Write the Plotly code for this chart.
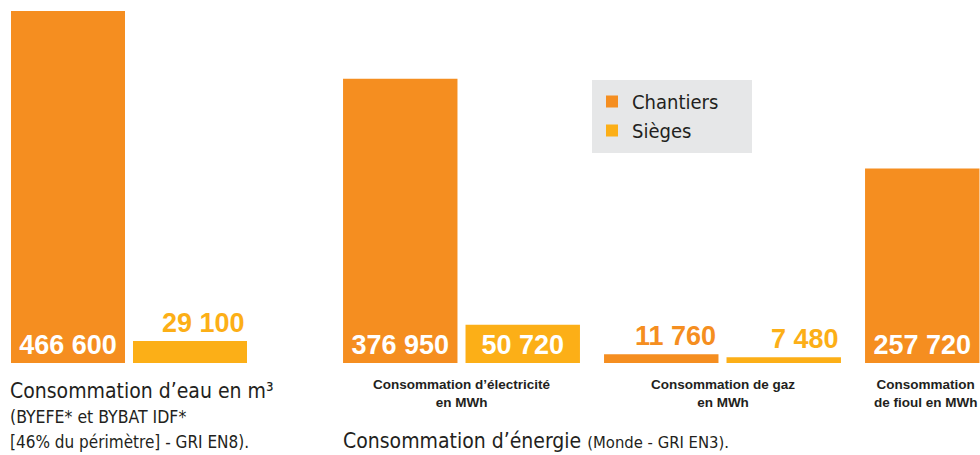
import plotly.graph_objects as go

# ---------------- data ----------------
series_names = ["Chantiers", "Sièges"]
water_categories = ["Consommation d'eau en m3"]
water_chantiers = [466600]
water_sieges = [29100]

energy_categories = ["Électricité", "Gaz", "Fioul"]
energy_chantiers = [376950, 11760, 257720]
energy_sieges = [50720, 7480, None]

# ---------------- style ----------------
W, H = 980, 455
C_ORANGE = "#F58E20"
C_YELLOW = "#FCAF17"
TXT = "#231F20"
NARROW = "DejaVu Sans Condensed, Liberation Sans Narrow, sans-serif"
BOLD = "Liberation Sans, Arial, sans-serif"
BARGAP = 0.0615
GROUPGAP = 0.0656
CAT_W = 261.0
INSIDE_MIN = 40000

base_px = 363          # baseline pixel from top
y_top = 466600 * base_px / 352.0


def fmt(v):
    return f"{v:,}".replace(",", " ")


def fx(px):
    return px / W


def fy(py):
    return 1 - py / H


fig = go.Figure()
colors = [C_ORANGE, C_YELLOW]


def add_group(cats, vals_list, xaxis, show_legend):
    for name, vals, col in zip(series_names, vals_list, colors):
        texts = [fmt(v) if (v is not None and v >= INSIDE_MIN) else "" for v in vals]
        fig.add_trace(go.Bar(
            x=cats, y=vals, name=name, marker=dict(color=col, line=dict(width=0)),
            text=texts, textposition="inside", insidetextanchor="start",
            textangle=0, constraintext="none",
            textfont=dict(color="white", size=27, family=BOLD, weight="bold"),
            xaxis=xaxis, yaxis="y", legendgroup=name, showlegend=show_legend,
            hoverinfo="skip",
        ))


add_group(water_categories, [water_chantiers, water_sieges], "x", True)
add_group(energy_categories, [energy_chantiers, energy_sieges], "x2", False)

# outside labels for short bars (right aligned on bar)
slot = CAT_W * (1 - BARGAP) / 2
bar_w = slot * (1 - GROUPGAP)
annotations = []
for cats, vals_list, xref in [(water_categories, [water_chantiers, water_sieges], "x"),
                              (energy_categories, [energy_chantiers, energy_sieges], "x2")]:
    for si, (vals, col) in enumerate(zip(vals_list, colors)):
        center_off = (-0.5 + si) * slot
        for c, v in zip(cats, vals):
            if v is not None and v < INSIDE_MIN:
                annotations.append(dict(
                    x=c, y=v, xref=xref, yref="y", text=fmt(v), showarrow=False,
                    xanchor="right", yanchor="bottom", xshift=center_off + bar_w / 2, yshift=1,
                    font=dict(color=col, size=27, family=BOLD, weight="bold"),
                ))

# captions
def cap(text, xpx, ypx, size, family=NARROW, xanchor="left", weight="normal"):
    annotations.append(dict(
        x=fx(xpx), y=fy(ypx), xref="paper", yref="paper", text=text, showarrow=False,
        xanchor=xanchor, yanchor="middle",
        font=dict(color=TXT, size=size, family=family, weight=weight),
    ))

cap("Consommation d’eau en m³", 8, 391, 21)
cap("(BYEFE* et BYBAT IDF*", 8, 417, 17.5)
cap("[46% du périmètre] - GRI EN8).", 8, 442, 17)
cap("Consommation d’électricité<br>en MWh", 461.5, 393, 13.5, BOLD, "center", "bold")
cap("Consommation de gaz<br>en MWh", 722.5, 393, 13.5, BOLD, "center", "bold")
cap("Consommation<br>de fioul en MWh", 926, 393, 13.5, BOLD, "center", "bold")
cap("Consommation d’énergie <span style='font-size:16.5px'>(Monde - GRI EN3).</span>", 341, 441, 21)

fig.update_layout(
    width=W, height=H, margin=dict(l=0, r=0, t=0, b=0),
    paper_bgcolor="white", plot_bgcolor="white",
    barmode="group", bargap=BARGAP, bargroupgap=GROUPGAP,
    xaxis=dict(domain=[0, fx(260)], range=[-0.5 + 1 / 260, 0.5 + 1 / 260],
               visible=False, fixedrange=True),
    xaxis2=dict(domain=[fx(331), 1], range=[-0.5, -0.5 + (W - 331) / CAT_W],
                visible=False, fixedrange=True, anchor="y"),
    yaxis=dict(domain=[fy(base_px), 1], range=[0, y_top], visible=False, fixedrange=True),
    showlegend=True,
    legend=dict(x=fx(592), y=fy(82), xanchor="left", yanchor="top",
                bgcolor="rgba(0,0,0,0)",
                font=dict(size=20, family=NARROW, color=TXT),
                tracegroupgap=0, itemclick=False, itemdoubleclick=False),
    shapes=[dict(type="rect", xref="paper", yref="paper", x0=fx(592), x1=fx(752),
                 y0=fy(153), y1=fy(80), fillcolor="#E6E7E8", line=dict(width=0), layer="below")],
    annotations=annotations,
)

fig.write_html("out.html", config={"displayModeBar": False},
               post_script="document.body.style.margin='0';")
